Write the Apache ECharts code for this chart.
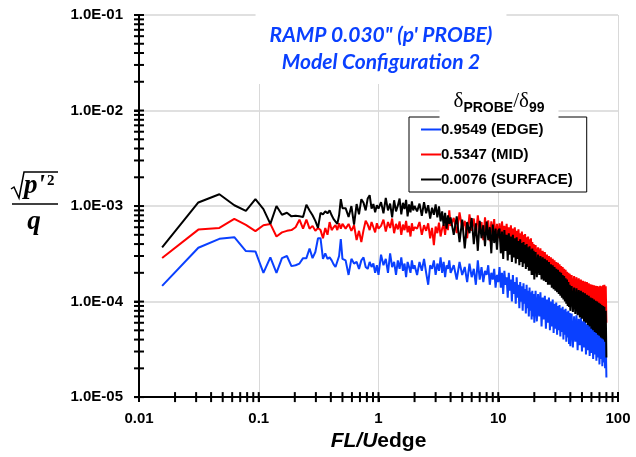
<!DOCTYPE html>
<html>
<head>
<meta charset="utf-8">
<script src="https://cdn.jsdelivr.net/npm/echarts@6/dist/echarts.min.js"></script>
<style>
  html, body { margin: 0; padding: 0; background: #fff; }
  #chart { width: 636px; height: 457px; }
</style>
</head>
<body>
<div id="chart"></div>
<script>
// FL/Uedge values (shared by all three probes)
const freq = [
  0.0156, 0.0313, 0.0469, 0.0625, 0.0781, 0.0938,
  0.1094, 0.125, 0.1406, 0.1563, 0.1719, 0.1875, 0.2031, 0.2188, 0.2344, 0.25, 0.2656, 0.2813, 0.2969,
  0.3125, 0.3281, 0.3438, 0.3594, 0.375, 0.3906, 0.4063, 0.4219, 0.4375, 0.4531, 0.4688, 0.4844, 0.5,
  0.5313, 0.5625, 0.5938, 0.625, 0.6563, 0.6875, 0.7188, 0.75, 0.7813, 0.8125, 0.8438, 0.875, 0.9063, 0.9375, 0.9688, 1.0,
  1.05, 1.1, 1.15, 1.2, 1.25, 1.3, 1.35, 1.4, 1.45, 1.5, 1.55, 1.6, 1.65, 1.7, 1.75, 1.8, 1.85, 1.9, 1.95, 2.0,
  2.1, 2.2, 2.3, 2.4, 2.5, 2.6, 2.7, 2.8, 2.9, 3.0, 3.1, 3.2, 3.3, 3.4, 3.5, 3.6, 3.7, 3.8, 3.9, 4.0,
  4.25, 4.5, 4.75, 5.0, 5.25, 5.5, 5.75, 6.0, 6.25, 6.5, 6.75, 7.0, 7.25, 7.5, 7.75, 8.0, 8.25, 8.5, 8.75, 9.0, 9.25, 9.5, 9.75, 10.0,
  10.25, 10.5, 10.75, 11, 11.25, 11.5, 11.75, 12, 12.25, 12.5, 12.75, 13, 13.25, 13.5, 13.75, 14, 14.25, 14.5, 14.75, 15,
  15.25, 15.5, 15.75, 16, 16.25, 16.5, 16.75, 17, 17.25, 17.5, 17.75, 18, 18.25, 18.5, 18.75, 19, 19.25, 19.5, 19.75, 20,
  20.5, 21, 21.5, 22, 22.5, 23, 23.5, 24, 24.5, 25, 25.5, 26, 26.5, 27, 27.5, 28, 28.5, 29, 29.5, 30,
  30.5, 31, 31.5, 32, 32.5, 33, 33.5, 34, 34.5, 35, 35.5, 36, 36.5, 37, 37.5, 38, 38.5, 39, 39.5, 40,
  41, 42, 43, 44, 45, 46, 47, 48, 49, 50, 51, 52, 53, 54, 55, 56, 57, 58, 59, 60,
  61, 62, 63, 64, 65, 66, 67, 68, 69, 70, 71, 72, 73, 74, 75, 76, 77, 78, 79, 80
]

// 0.9549 (EDGE)
const edge = [
  1.46e-4, 3.66e-4, 4.54e-4, 4.72e-4, 3.38e-4, 3.35e-4,
  2.0e-4, 2.9e-4, 2.0e-4, 2.85e-4, 3.0e-4, 2.35e-4, 2.4e-4, 2.5e-4, 2.85e-4, 2.85e-4, 3.6e-4, 2.85e-4, 3.3e-4,
  4.6e-4, 4.6e-4, 2.8e-4, 3.2e-4, 2.8e-4, 2.9e-4, 2.7e-4, 2.45e-4, 2.3e-4, 2.2e-4, 3.0e-4, 4.5e-4, 2.8e-4,
  2.7e-4, 1.9e-4, 2.8e-4, 2.5e-4, 2.6e-4, 2.2e-4, 2.7e-4, 2.9e-4, 2.3e-4, 2.2e-4, 2.6e-4, 2.3e-4, 2.5e-4, 2.0e-4, 2.4e-4, 1.9e-4,
  3.1e-4, 2.4e-4, 2.8e-4, 2.0e-4, 3.2e-4, 2.3e-4, 2.6e-4, 1.9e-4, 2.7e-4, 2.2e-4, 2.9e-4, 2.1e-4, 2.5e-4, 1.8e-4, 2.6e-4, 2.3e-4, 2.0e-4, 2.7e-4, 2.2e-4, 2.4e-4,
  1.9e-4, 2.6e-4, 2.1e-4, 2.8e-4, 2.0e-4, 1.5e-4, 2.4e-4, 2.2e-4, 2.7e-4, 1.9e-4, 2.5e-4, 2.1e-4, 2.9e-4, 2.0e-4, 2.6e-4, 1.8e-4, 2.4e-4, 2.2e-4, 2.7e-4, 2.0e-4,
  2.4e-4, 1.7e-4, 2.6e-4, 1.9e-4, 2.3e-4, 1.6e-4, 2.5e-4, 1.8e-4, 2.2e-4, 1.5e-4, 2.7e-4, 1.7e-4, 2.3e-4, 1.6e-4, 2.1e-4, 1.9e-4, 2.4e-4, 1.5e-4, 2.0e-4, 1.7e-4, 2.2e-4, 1.4e-4, 1.9e-4, 1.6e-4,
  2.3e-4, 1.4e-4, 2.0e-4, 1.2e-4, 2.1e-4, 1.5e-4, 1.8e-4, 1.1e-4, 2.0e-4, 1.3e-4, 1.7e-4, 1.0e-4, 1.9e-4, 1.2e-4, 1.6e-4, 9.5e-5, 1.8e-4, 1.1e-4, 1.5e-4, 8.5e-5,
  1.6e-4, 1.0e-4, 1.45e-4, 8.0e-5, 1.55e-4, 9.5e-5, 1.35e-4, 7.5e-5, 1.5e-4, 8.5e-5, 1.3e-4, 7.0e-5, 1.4e-4, 8.0e-5, 1.25e-4, 6.5e-5, 1.3e-4, 7.0e-5, 1.2e-4, 6.0e-5,
  1.3e-4, 6.2e-5, 1.2e-4, 7.0e-5, 1.25e-4, 5.5e-5, 1.1e-4, 6.5e-5, 1.15e-4, 5.2e-5, 1.05e-4, 6.0e-5, 1.1e-4, 5.0e-5, 1.0e-4, 5.5e-5, 1.05e-4, 4.7e-5, 9.5e-5, 5.2e-5,
  9.8e-5, 4.5e-5, 9.0e-5, 5.0e-5, 9.2e-5, 4.3e-5, 8.5e-5, 4.8e-5, 8.8e-5, 4.0e-5, 8.2e-5, 4.5e-5, 8.4e-5, 3.8e-5, 7.8e-5, 4.2e-5, 8.0e-5, 3.6e-5, 7.6e-5, 3.4e-5,
  7.5e-5, 3.3e-5, 7.0e-5, 3.8e-5, 7.2e-5, 3.1e-5, 6.6e-5, 3.5e-5, 6.8e-5, 3.0e-5, 6.2e-5, 3.3e-5, 6.4e-5, 2.8e-5, 5.8e-5, 3.1e-5, 6.0e-5, 2.7e-5, 5.5e-5, 2.9e-5,
  5.6e-5, 2.5e-5, 5.2e-5, 2.8e-5, 5.3e-5, 2.4e-5, 5.0e-5, 2.6e-5, 5.0e-5, 2.2e-5, 4.7e-5, 2.5e-5, 4.8e-5, 2.1e-5, 4.5e-5, 2.3e-5, 4.4e-5, 2.0e-5, 4.0e-5, 1.6e-5
]

// 0.5347 (MID)
const mid = [
  2.86e-4, 5.67e-4, 5.9e-4, 7.33e-4, 6.34e-4, 5.46e-4,
  6.3e-4, 6.5e-4, 4.8e-4, 5.3e-4, 5.5e-4, 5.6e-4, 6.0e-4, 7.2e-4, 5.8e-4, 7.2e-4, 5.8e-4, 6.2e-4, 5.5e-4,
  5.9e-4, 5.6e-4, 4.6e-4, 5.9e-4, 5.0e-4, 6.8e-4, 5.6e-4, 6.0e-4, 6.3e-4, 5.6e-4, 6.6e-4, 5.8e-4, 6.5e-4,
  5.8e-4, 6.5e-4, 5.5e-4, 6.3e-4, 4.4e-4, 5.5e-4, 4.2e-4, 5.6e-4, 7.0e-4, 6.4e-4, 5.6e-4, 6.8e-4, 6.0e-4, 5.3e-4, 6.6e-4, 5.8e-4,
  6.2e-4, 7.2e-4, 5.4e-4, 6.8e-4, 5.9e-4, 7.4e-4, 5.2e-4, 6.5e-4, 5.7e-4, 6.9e-4, 5.0e-4, 6.4e-4, 5.6e-4, 7.0e-4, 5.3e-4, 6.2e-4, 4.8e-4, 6.6e-4, 5.5e-4, 6.0e-4,
  5.8e-4, 6.8e-4, 5.0e-4, 6.3e-4, 5.5e-4, 6.6e-4, 4.6e-4, 5.9e-4, 3.9e-4, 6.1e-4, 5.2e-4, 6.7e-4, 4.8e-4, 5.8e-4, 6.4e-4, 5.0e-4, 7.2e-4, 5.6e-4, 9.0e-4, 6.2e-4,
  7.5e-4, 5.2e-4, 8.6e-4, 5.8e-4, 7.0e-4, 4.6e-4, 8.2e-4, 5.5e-4, 7.4e-4, 4.9e-4, 8.0e-4, 5.4e-4, 6.8e-4, 4.4e-4, 7.6e-4, 5.0e-4, 7.1e-4, 4.3e-4, 6.9e-4, 5.1e-4, 7.3e-4, 4.2e-4, 6.5e-4, 4.6e-4,
  6.6e-4, 4.2e-4, 6.9e-4, 4.6e-4, 6.2e-4, 3.9e-4, 6.5e-4, 4.4e-4, 6.0e-4, 3.8e-4, 6.3e-4, 4.2e-4, 5.8e-4, 3.7e-4, 6.0e-4, 4.0e-4, 5.5e-4, 3.6e-4, 5.7e-4, 3.9e-4,
  5.2e-4, 3.5e-4, 5.4e-4, 3.7e-4, 5.0e-4, 3.3e-4, 5.1e-4, 3.5e-4, 4.7e-4, 3.2e-4, 4.8e-4, 3.3e-4, 4.5e-4, 3.0e-4, 4.6e-4, 3.1e-4, 4.2e-4, 2.9e-4, 4.0e-4, 2.7e-4,
  3.9e-4, 2.6e-4, 3.7e-4, 2.5e-4, 3.6e-4, 2.4e-4, 3.4e-4, 2.3e-4, 3.3e-4, 2.2e-4, 3.1e-4, 2.1e-4, 3.0e-4, 2.05e-4, 2.9e-4, 1.95e-4, 2.8e-4, 1.9e-4, 2.7e-4, 1.85e-4,
  2.6e-4, 1.8e-4, 2.55e-4, 1.7e-4, 2.45e-4, 1.65e-4, 2.35e-4, 1.6e-4, 2.3e-4, 1.55e-4, 2.2e-4, 1.5e-4, 2.15e-4, 1.45e-4, 2.05e-4, 1.4e-4, 2.0e-4, 1.35e-4, 1.95e-4, 1.3e-4,
  1.9e-4, 1.25e-4, 1.85e-4, 1.2e-4, 1.8e-4, 1.15e-4, 1.75e-4, 1.12e-4, 1.7e-4, 1.1e-4, 1.65e-4, 1.05e-4, 1.62e-4, 1.02e-4, 1.6e-4, 1.0e-4, 1.55e-4, 9.8e-5, 1.52e-4, 9.5e-5,
  1.5e-4, 9.3e-5, 1.48e-4, 9.2e-5, 1.46e-4, 9.0e-5, 1.45e-4, 9.0e-5, 1.44e-4, 8.8e-5, 1.46e-4, 8.6e-5, 1.45e-4, 8.5e-5, 1.48e-4, 8.4e-5, 1.5e-4, 8.2e-5, 1.45e-4, 6.0e-5
]

// 0.0076 (SURFACE)
const surface = [
  3.7e-4, 1.09e-3, 1.33e-3, 1.02e-3, 8.9e-4, 1.18e-3,
  9.3e-4, 6.5e-4, 1.0e-3, 8.1e-4, 8.5e-4, 7.8e-4, 7.9e-4, 7.8e-4, 7.7e-4, 1.03e-3, 9.0e-4, 8.0e-4, 7.0e-4,
  5.9e-4, 8.5e-4, 8.2e-4, 8.8e-4, 8.4e-4, 9.0e-4, 8.0e-4, 7.3e-4, 7.0e-4, 6.5e-4, 8.0e-4, 1.18e-3, 9.5e-4,
  9.5e-4, 7.7e-4, 1.0e-3, 6.4e-4, 1.05e-3, 8.2e-4, 1.18e-3, 1.08e-3, 9.0e-4, 1.2e-3, 1.3e-3, 9.4e-4, 1.05e-3, 8.6e-4, 1.02e-3, 9.4e-4,
  1.1e-3, 8.4e-4, 1.22e-3, 9.0e-4, 1.06e-3, 7.6e-4, 1.15e-3, 8.8e-4, 1.01e-3, 1.2e-3, 8.2e-4, 1.08e-3, 9.3e-4, 1.16e-3, 7.8e-4, 1.04e-3, 8.6e-4, 1.12e-3, 9.0e-4, 1.0e-3,
  8.8e-4, 1.06e-3, 7.9e-4, 1.1e-3, 8.4e-4, 1.02e-3, 7.4e-4, 9.6e-4, 8.1e-4, 1.04e-3, 7.6e-4, 9.9e-4, 6.9e-4, 8.8e-4, 6.2e-4, 8.5e-4, 5.8e-4, 8.0e-4, 6.5e-4, 7.6e-4,
  5.0e-4, 7.8e-4, 4.2e-4, 7.2e-4, 3.6e-4, 6.8e-4, 5.2e-4, 7.5e-4, 4.0e-4, 6.6e-4, 3.4e-4, 7.0e-4, 4.6e-4, 6.3e-4, 3.8e-4, 6.9e-4, 4.4e-4, 6.0e-4, 3.2e-4, 6.4e-4, 4.1e-4, 5.8e-4, 3.5e-4, 5.5e-4,
  5.8e-4, 3.2e-4, 5.4e-4, 2.8e-4, 5.6e-4, 3.4e-4, 5.0e-4, 2.7e-4, 5.2e-4, 3.1e-4, 4.8e-4, 2.6e-4, 5.0e-4, 2.9e-4, 4.6e-4, 2.5e-4, 4.7e-4, 2.8e-4, 4.3e-4, 2.4e-4,
  4.5e-4, 2.6e-4, 4.1e-4, 2.3e-4, 4.2e-4, 2.5e-4, 3.9e-4, 2.2e-4, 4.0e-4, 2.3e-4, 3.7e-4, 2.1e-4, 3.8e-4, 2.1e-4, 3.5e-4, 1.9e-4, 3.6e-4, 1.9e-4, 3.4e-4, 1.7e-4,
  3.3e-4, 1.8e-4, 3.1e-4, 1.9e-4, 3.0e-4, 1.7e-4, 2.9e-4, 1.65e-4, 2.8e-4, 1.6e-4, 2.7e-4, 1.5e-4, 2.6e-4, 1.5e-4, 2.45e-4, 1.4e-4, 2.4e-4, 1.35e-4, 2.3e-4, 1.3e-4,
  2.2e-4, 1.25e-4, 2.15e-4, 1.2e-4, 2.05e-4, 1.15e-4, 2.0e-4, 1.1e-4, 1.9e-4, 1.05e-4, 1.85e-4, 1.0e-4, 1.75e-4, 9.5e-5, 1.7e-4, 9.0e-5, 1.6e-4, 8.8e-5, 1.5e-4, 8.0e-5,
  1.45e-4, 7.8e-5, 1.4e-4, 7.4e-5, 1.38e-4, 7.2e-5, 1.32e-4, 6.8e-5, 1.3e-4, 6.6e-5, 1.25e-4, 6.2e-5, 1.22e-4, 6.0e-5, 1.18e-4, 5.7e-5, 1.15e-4, 5.5e-5, 1.1e-4, 5.2e-5,
  1.08e-4, 5.0e-5, 1.05e-4, 4.8e-5, 1.02e-4, 4.7e-5, 1.0e-4, 4.5e-5, 9.7e-5, 4.4e-5, 9.5e-5, 4.2e-5, 9.2e-5, 4.1e-5, 9.0e-5, 4.0e-5, 8.8e-5, 3.8e-5, 8.0e-5, 2.6e-5
]

const seriesNames = ["0.9549 (EDGE)", "0.5347 (MID)", "0.0076 (SURFACE)"]
const seriesColors = ["#0a40ff", "#ff0000", "#000000"]

// decade starts and the 1..9 steps used for the major + minor ticks
const xDecades = [0.01, 0.1, 1, 10]
const yDecades = [1e-5, 1e-4, 1e-3, 1e-2]
const tickSteps = [1, 2, 3, 4, 5, 6, 7, 8, 9]
const xMin = 0.01, xMax = 100, yMin = 1e-5, yMax = 1e-1

const font = "'Liberation Sans', Arial, sans-serif"
const blue = "#0a40ff"

const tickValues = (decades, top) => {
    const out = []
    decades.forEach((d) => tickSteps.forEach((s) => out.push(Number((d * s).toPrecision(3)))))
    out.push(top)
    return out
}
const xTicks = tickValues(xDecades, xMax)
const yTicks = tickValues(yDecades, yMax)

const chart = echarts.init(document.getElementById("chart"), null, { renderer: "canvas" })

// crossing tick marks as thin rect symbols sitting on the axis lines
const tickSeries = (points, size) => ({
    type: "scatter",
    silent: true,
    clip: false,
    z: 10,
    symbol: "rect",
    symbolSize: size,
    itemStyle: { color: "#000", opacity: 1 },
    emphasis: { disabled: true },
    data: points,
})

const option = {
    animation: false,
    backgroundColor: "#fff",
    title: {
        text: 'RAMP 0.030" (p\' PROBE)\nModel Configuration 2',
        left: 367,
        top: 14,
        textAlign: "center",
        padding: [8, 14],
        backgroundColor: "#fff",
        textStyle: {
            color: blue,
            fontFamily: "Lato, 'Open Sans', sans-serif",
            fontStyle: "italic",
            fontWeight: "bold",
            fontSize: 21,
            lineHeight: 27,
        },
    },
    legend: {
        orient: "vertical",
        left: 409,
        top: 117,
        padding: [5, 14, 5, 12],
        icon: "rect",
        itemWidth: 20,
        itemHeight: 2,
        itemGap: 10,
        backgroundColor: "#fff",
        borderColor: "#000",
        borderWidth: 1,
        borderRadius: 0,
        data: seriesNames,
        textStyle: {
            color: "#000",
            fontFamily: font,
            fontWeight: "bold",
            fontSize: 15,
            lineHeight: 14,
            padding: [0, 0, 0, -5],
        },
    },
    grid: {
        left: 139,
        right: 18,
        top: 15,
        bottom: 58,
        containLabel: false,
    },
    xAxis: {
        type: "log",
        logBase: 10,
        min: xMin,
        max: xMax,
        name: "{i|FL/U}{n|edge}",
        nameLocation: "middle",
        nameGap: 29,
        nameTextStyle: {
            rich: {
                i: { fontFamily: font, fontWeight: "bold", fontStyle: "italic", fontSize: 21, color: "#000" },
                n: { fontFamily: font, fontWeight: "bold", fontSize: 21, color: "#000" },
            },
        },
        axisLine: { show: true, onZero: false, lineStyle: { color: "#000", width: 2 } },
        axisTick: { show: true, inside: false, length: 5, lineStyle: { color: "#000", width: 2 } },
        axisLabel: {
            color: "#000",
            fontFamily: font,
            fontWeight: "bold",
            fontSize: 15,
            margin: 14,
            formatter: (v) => String(Number(v.toPrecision(3))),
        },
        splitLine: { show: true, lineStyle: { color: "#d9d9d9", width: 1 } },
    },
    yAxis: {
        type: "log",
        logBase: 10,
        min: yMin,
        max: yMax,
        axisLine: { show: true, onZero: false, lineStyle: { color: "#000", width: 2 } },
        axisTick: { show: true, inside: false, length: 5, lineStyle: { color: "#000", width: 2 } },
        axisLabel: {
            color: "#000",
            fontFamily: font,
            fontWeight: "bold",
            fontSize: 15,
            margin: 16,
            formatter: (v) => {
                const e = Math.round(Math.log10(v))
                return "1.0E-" + String(-e).padStart(2, "0")
            },
        },
        splitLine: { show: true, lineStyle: { color: "#e0e0e0", width: 2 } },
    },
    graphic: [
        // legend heading: delta_PROBE / delta_99
        {
            type: "text",
            z: 100,
            x: 499,
            y: 101,
            style: {
                text: "{d|δ}{s|PROBE}{d|/δ}{s|99}",
                align: "center",
                verticalAlign: "middle",
                backgroundColor: "#fff",
                padding: [4, 14, 4, 14],
                rich: {
                    d: { fontFamily: "'Liberation Serif', serif", fontSize: 21, lineHeight: 28, fill: "#000" },
                    s: { fontFamily: font, fontWeight: "bold", fontSize: 14, lineHeight: 16, verticalAlign: "bottom", fill: "#000" },
                },
            },
        },
        // y axis title: sqrt(p'^2) / q
        {
            type: "polyline",
            z: 100,
            shape: { points: [[11, 189], [14, 187], [19, 198], [24, 172], [58, 172]] },
            style: { stroke: "#000", lineWidth: 1.5, fill: null },
        },
        {
            type: "text",
            z: 100,
            x: 24,
            y: 186,
            style: {
                text: "p'",
                fontFamily: "'Liberation Serif', serif",
                fontStyle: "italic",
                fontWeight: "bold",
                fontSize: 27,
                verticalAlign: "middle",
                fill: "#000",
            },
        },
        {
            type: "text",
            z: 100,
            x: 47,
            y: 181,
            style: {
                text: "2",
                fontFamily: "'Liberation Serif', serif",
                fontWeight: "bold",
                fontSize: 15,
                verticalAlign: "middle",
                fill: "#000",
            },
        },
        {
            type: "line",
            z: 100,
            shape: { x1: 12, y1: 204, x2: 58, y2: 204 },
            style: { stroke: "#000", lineWidth: 1.5 },
        },
        {
            type: "text",
            z: 100,
            x: 34,
            y: 222,
            style: {
                text: "q",
                fontFamily: "'Liberation Serif', serif",
                fontStyle: "italic",
                fontWeight: "bold",
                fontSize: 27,
                align: "center",
                verticalAlign: "middle",
                fill: "#000",
            },
        },
    ],
    series: [
        ...[edge, mid, surface].map((vals, k) => ({
            name: seriesNames[k],
            type: "line",
            symbol: "none",
            showSymbol: false,
            data: freq.map((f, i) => [f, vals[i]]),
            lineStyle: { width: 2, color: seriesColors[k] },
            itemStyle: { color: seriesColors[k] },
            z: 2 + k,
        })),
        tickSeries(xTicks.map((v) => [v, yMin]), [2, 10]),
        tickSeries(yTicks.map((v) => [xMin, v]), [10, 2]),
    ],
}

chart.setOption(option)
</script>
</body>
</html>
